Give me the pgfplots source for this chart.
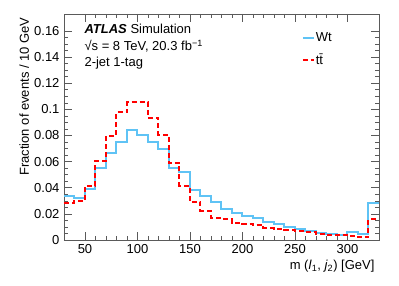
\documentclass[border=0pt]{standalone}
\usepackage{fontspec}
\setmainfont{Liberation Sans}
\usepackage{pgfplots}
\pgfplotsset{compat=1.18}
\definecolor{wtblue}{RGB}{95,195,245}
\definecolor{axgray}{RGB}{90,90,90}
\begin{document}
\fontsize{13}{15.6}\selectfont
\begin{tikzpicture}
\useasboundingbox (-64pt,-46pt) rectangle (335pt,240pt);
\begin{axis}[
  at={(0pt,0pt)}, anchor=south west,
  scale only axis, width=315pt, height=226pt,
  xmin=30, xmax=330, ymin=0, ymax=0.173,
  xtick={50,100,150,200,250,300}, minor x tick num=4,
  ytick={0,0.02,0.04,0.06,0.08,0.1,0.12,0.14,0.16}, minor y tick num=3,
  scaled y ticks=false,
  yticklabel style={/pgf/number format/fixed, /pgf/number format/precision=2},
  /pgf/number format/assume math mode=true,
  tick label style={font=\fontsize{13}{15}\selectfont},
  major tick length=8pt, minor tick length=4pt,
  axis line style={axgray, line width=0.8pt},
  every tick/.append style={axgray, line width=0.6pt},
  legend style={draw=none, fill=none, at={(rel axis cs:0.745,0.93)}, anchor=north west,
    font=\fontsize{13}{15}\selectfont, row sep=8pt,
    nodes={inner sep=1pt}},
  legend image code/.code={\draw[#1] (0pt,0pt) -- (11pt,0pt);},
  legend cell align=left,
]
\addplot[wtblue, line width=2pt, const plot mark left] coordinates {
(30,0.0339) (40,0.0319) (50,0.0390) (60,0.0549) (70,0.0664) (80,0.0748)
(90,0.0845) (100,0.0804) (110,0.0753) (120,0.0697) (130,0.0549) (140,0.0518)
(150,0.0383) (160,0.0337) (170,0.0289) (180,0.0237) (190,0.0209) (200,0.0187)
(210,0.0166) (220,0.0140) (230,0.0120) (240,0.0102) (250,0.0082) (260,0.0069)
(270,0.0056) (280,0.0046) (290,0.0041) (300,0.0059) (310,0.0043) (320,0.0286)
(330,0.0286)};
\addlegendentry{Wt}
\addplot[red, line width=2pt, dash pattern=on 5pt off 3pt, const plot mark left] coordinates {
(30,0.0286) (40,0.0301) (50,0.0416) (60,0.0605) (70,0.0799) (80,0.0978)
(90,0.1054) (100,0.1054) (110,0.0937) (120,0.0804) (130,0.0587) (140,0.0416)
(150,0.0291) (160,0.0224) (170,0.0170) (180,0.0160) (190,0.0133) (200,0.0120)
(210,0.0112) (220,0.0095) (230,0.0088) (240,0.0078) (250,0.0068) (260,0.0058)
(270,0.0048) (280,0.0038) (290,0.0035) (300,0.0031) (310,0.0023) (320,0.0161)
(330,0.0161)};
\addlegendentry{t\={t}}
\end{axis}
\node[anchor=base west] at (16pt,206pt) {\textbf{\textit{ATLAS}} Simulation};
\node[anchor=base west] at (16pt,189.5pt) {√s = 8 TeV, 20.3 fb\textsuperscript{−1}};
\node[anchor=base west] at (16pt,173pt) {2-jet 1-tag};
\node[rotate=90, anchor=base east] at (-35pt,227pt) {Fraction of events / 10 GeV};
\node[anchor=base east] at (315pt,-29.5pt) {m (\textit{l}\textsubscript{1}, \textit{j}\textsubscript{2}) [GeV]};
\end{tikzpicture}
\end{document}
